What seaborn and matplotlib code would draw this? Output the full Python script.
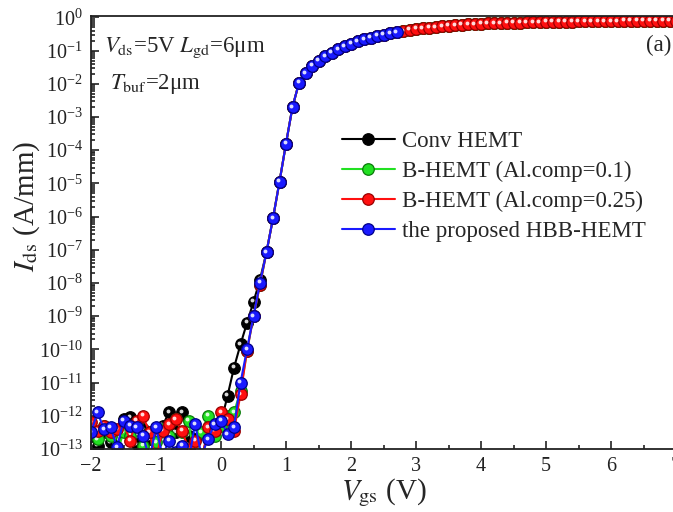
import numpy as np
import pandas as pd
import matplotlib
matplotlib.use("Agg")
import matplotlib.pyplot as plt
import matplotlib.transforms as mtransforms
from matplotlib.ticker import LogLocator, MultipleLocator, NullFormatter
from matplotlib.lines import Line2D
import seaborn as sns

# Gate-voltage sweep in 0.1 V steps: sub-threshold part and on-state part
vgs_sub = np.round(np.arange(-2.0, 0.65, 0.1), 1)   # -2.0 ... 0.6 V
vgs_on = np.round(np.arange(0.7, 7.05, 0.1), 1)     # 0.7 ... 7.0 V

# log10(Ids [A/mm]) of each device from -2.0 V to 0.6 V
log_conv_sub = [-12.60, -12.90, -12.50, -12.80, -13.40, -12.10, -12.05, -12.85, -12.40,
                -12.70, -12.60, -12.30, -11.90, -12.50, -11.90, -12.60, -12.70, -13.30,
                -12.50, -12.30, -12.20, -11.40, -10.55, -9.85, -9.20, -8.57, -7.90]
log_b01_sub = [-12.40, -12.70, -12.30, -12.60, -13.10, -12.50, -12.60, -12.20, -12.90,
               -12.50, -12.80, -12.40, -12.60, -12.10, -12.50, -12.15, -13.40, -12.50,
               -12.00, -12.60, -12.30, -12.00, -11.90, -11.25, -10.05, -9.00, -8.05]
log_b025_sub = [-12.20, -12.45, -12.30, -12.50, -12.40, -12.20, -12.75, -12.15, -12.00,
                -12.50, -13.30, -12.45, -12.25, -12.10, -12.45, -13.00, -12.75, -13.40,
                -12.35, -12.45, -11.90, -12.10, -12.45, -11.35, -10.05, -9.00, -8.05]
log_hbb_sub = [-12.50, -11.90, -12.40, -12.35, -12.95, -12.15, -12.30, -12.35, -12.60,
               -13.30, -12.35, -13.20, -12.75, -13.10, -12.90, -13.40, -12.25, -13.20,
               -12.70, -12.25, -12.15, -12.55, -12.35, -11.00, -10.00, -9.00, -8.00]

# log10(Ids [A/mm]) shared by all devices in the on-state, 0.7 V ... 7.0 V
log_on = [-7.07, -6.05, -4.95, -3.80, -2.70, -1.97, -1.68, -1.46, -1.30, -1.17,
          -1.06, -0.96, -0.87, -0.79, -0.72, -0.66, -0.61, -0.56, -0.52, -0.48,
          -0.45, -0.42, -0.38, -0.35, -0.33, -0.31, -0.29, -0.27, -0.25, -0.235,
          -0.22, -0.21, -0.20, -0.19, -0.18, -0.175, -0.17, -0.165, -0.16, -0.155,
          -0.15, -0.145, -0.14, -0.137, -0.134, -0.131, -0.128, -0.125, -0.123, -0.121,
          -0.119, -0.117, -0.115, -0.113, -0.111, -0.109, -0.107, -0.105, -0.103, -0.102,
          -0.101, -0.100, -0.099, -0.098]

hbb_vgs_max = 2.7   # the HBB-HEMT sweep stops here

devices = ["Conv HEMT", "B-HEMT (Al.comp=0.1)", "B-HEMT (Al.comp=0.25)",
           "the proposed HBB-HEMT"]
colors = ["#000000", "#22e022", "#ff1010", "#1a1aff"]
edge_colors = ["#000000", "#0a7a0a", "#9a0000", "#00008a"]
sub_curves = [log_conv_sub, log_b01_sub, log_b025_sub, log_hbb_sub]

frames = []
for name, sub in zip(devices, sub_curves):
    vgs = np.concatenate([vgs_sub, vgs_on])
    log_ids = np.concatenate([sub, log_on])
    if name == devices[-1]:
        keep = vgs <= hbb_vgs_max + 1e-9
        vgs, log_ids = vgs[keep], log_ids[keep]
    frames.append(pd.DataFrame({"device": name, "Vgs": vgs, "Ids": 10.0 ** log_ids}))
df = pd.concat(frames, ignore_index=True)

sns.set_style("ticks")
plt.rcParams["font.family"] = ["Liberation Serif", "DejaVu Serif"]
plt.rcParams["mathtext.fontset"] = "stix"
plt.rcParams["axes.unicode_minus"] = True

W, H = 673, 512
fig = plt.figure(figsize=(W / 100, H / 100), dpi=100)
ax = fig.add_axes([91 / W, 1 - 449 / H, 585 / W, 433 / H])
ax.set_yscale("log")

ms = 8.3
shine = mtransforms.offset_copy(ax.transData, fig=fig, x=-1.5, y=1.5, units="dots")
for name, col, ec in zip(devices, colors, edge_colors):
    d = df[df["device"] == name]
    sns.lineplot(data=d, x="Vgs", y="Ids", ax=ax, color=col, lw=1.5, sort=False,
                 estimator=None, marker="o", markersize=ms, markeredgecolor=ec,
                 markeredgewidth=0.9, legend=False)
    # small specular spot on each ball
    ax.plot(d["Vgs"], d["Ids"], linestyle="none", marker="o", markersize=2.8,
            color="white", alpha=0.85, markeredgewidth=0, transform=shine)

ax.set_xlim(-2, 7)
ax.set_ylim(1e-13, 1.1)
ax.xaxis.set_major_locator(MultipleLocator(1))
ax.xaxis.set_minor_locator(MultipleLocator(0.5))
ax.yaxis.set_major_locator(LogLocator(base=10, numticks=20))
ax.yaxis.set_minor_locator(LogLocator(base=10, subs=np.arange(2, 10), numticks=20))
ax.yaxis.set_minor_formatter(NullFormatter())
ax.tick_params(which="both", direction="in", top=False, right=False,
               colors="#222222", labelsize=14.5, width=1.2)
ax.tick_params(which="major", length=6, pad=6)
ax.tick_params(which="minor", length=3)
for sp in ax.spines.values():
    sp.set_linewidth(1.3)
    sp.set_color("#222222")

ax.set_xlabel(r"$V_{\rm gs}$ (V)", fontsize=21, labelpad=0)
ax.set_ylabel(r"$I_{\rm ds}$ (A/mm)", fontsize=21)
ax.yaxis.set_label_coords(-0.084, 0.56)

ax.text(104, H - 48, r"$V_{\rm ds}$=5V $L_{\rm gd}$=6μm", transform=None,
        fontsize=16.5, va="center", ha="left")
ax.text(110, H - 84, r"$T_{\rm buf}$=2μm", transform=None, fontsize=16.5,
        va="center", ha="left")
ax.text(0.992, 0.933, "(a)", transform=ax.transAxes, fontsize=16.5,
        ha="right", va="center")

handles = [Line2D([], [], color=c, lw=1.5, marker="o", markersize=ms,
                  markeredgecolor=e, markeredgewidth=0.9)
           for c, e in zip(colors, edge_colors)]
ax.legend(handles, devices, loc="upper left", bbox_to_anchor=(342 / W, 1 - 131 / H),
          bbox_transform=fig.transFigure, frameon=False, fontsize=16.5,
          handlelength=2.3, handletextpad=0.3, labelspacing=0.38,
          borderpad=0, borderaxespad=0)

fig.savefig("out.png", dpi=100)
